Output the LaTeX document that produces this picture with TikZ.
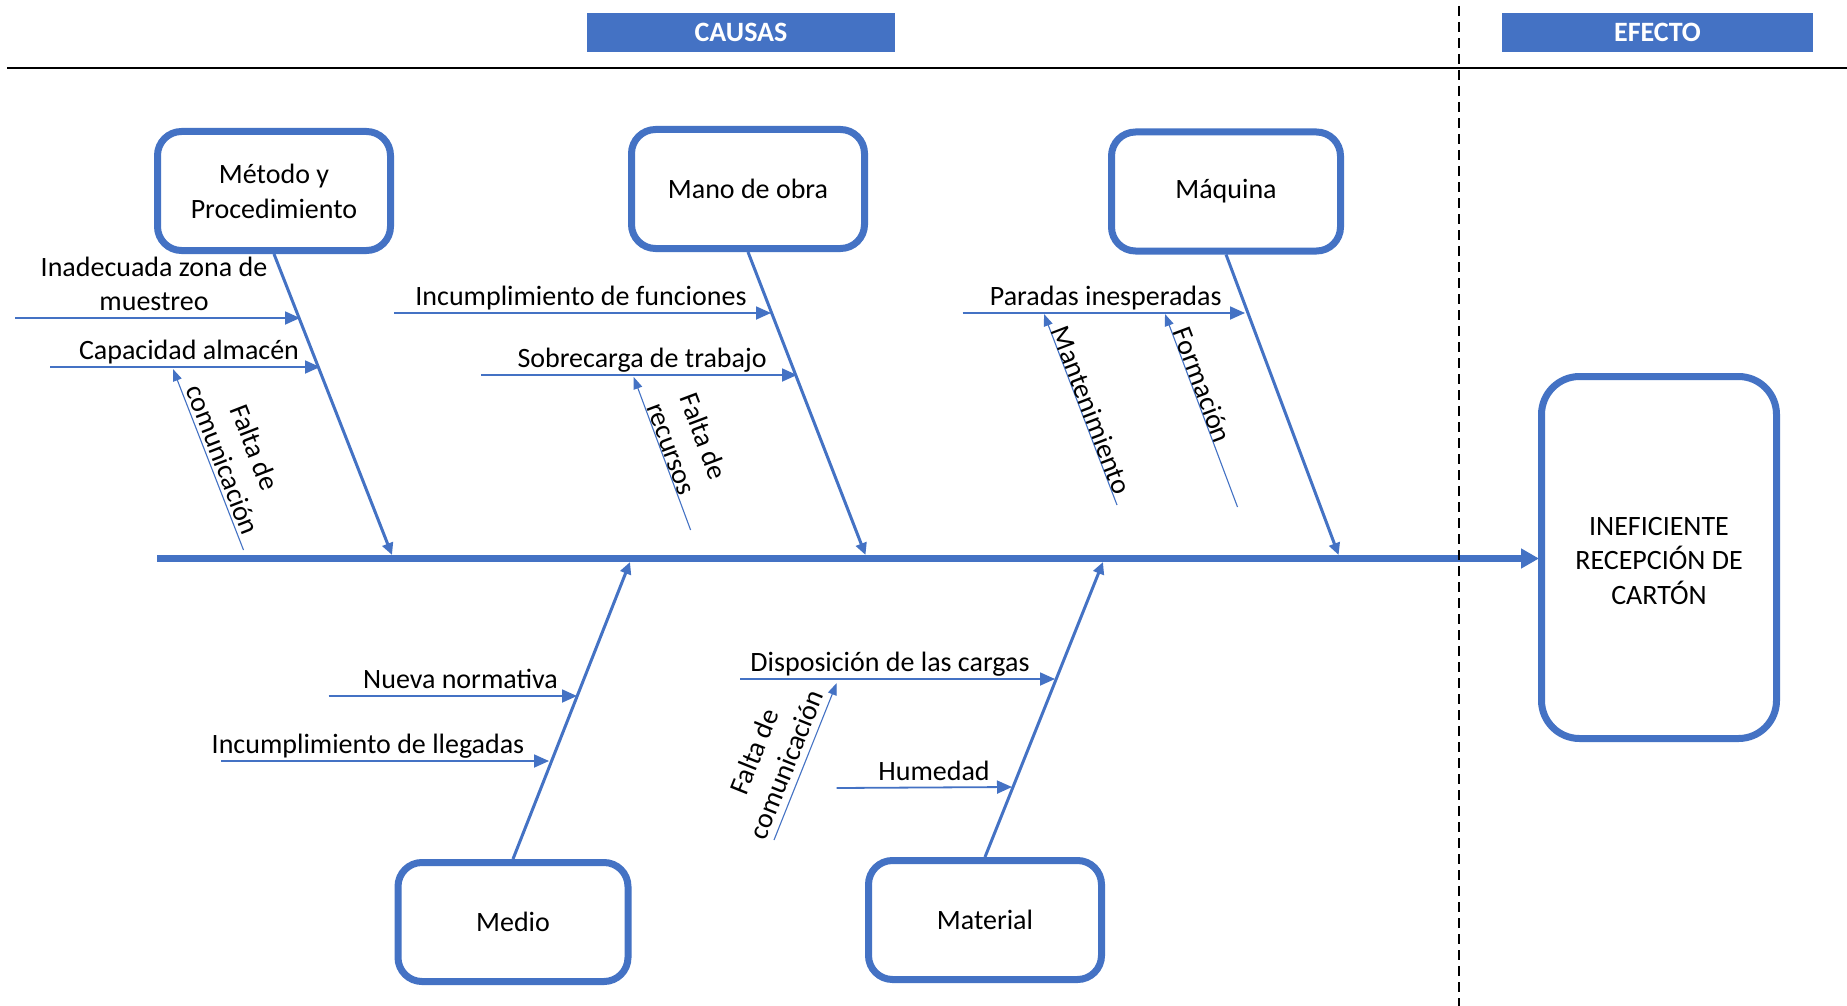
\documentclass[tikz,border=0pt]{standalone}
\usepackage{fontspec}
\setmainfont{Carlito}
\usetikzlibrary{arrows.meta}
\definecolor{obl}{HTML}{4472C4}
\begin{document}
\begin{tikzpicture}[x=1pt,y=-1pt,
  catbox/.style={draw=obl, line width=7pt, rounded corners=24pt, fill=white,
    minimum width=233pt, minimum height=119pt, align=center, inner sep=0pt,
    font=\fontsize{28}{35}\selectfont},
  lbl/.style={font=\fontsize{28}{34.5}\selectfont, align=center, inner sep=0pt, anchor=base},
  rlbl/.style={font=\fontsize{28}{34.5}\selectfont, align=center, inner sep=0pt},
  hdr/.style={fill=obl, text=white, font=\fontsize{28}{30}\selectfont\bfseries,
    minimum height=39pt, inner sep=0pt},
  bone/.style={draw=obl, line width=3pt, -{Triangle[length=12pt,width=11pt]}},
  subarr/.style={draw=obl, line width=1.8pt, -{Triangle[length=15pt,width=13pt]}},
  thinarr/.style={draw=obl, line width=1.1pt, -{Triangle[length=12pt,width=9pt]}},
]
\useasboundingbox (0,0) rectangle (1847,1006);
\fill[white] (0,0) rectangle (1847,1006);

% headers
\node[hdr, minimum width=308pt] (causas) at (741,32.5) {CAUSAS};
\node[hdr, minimum width=311pt] (efecto) at (1657.5,32.5) {EFECTO};
\coordinate (hl1) at (7,68);
\coordinate (hl2) at (1847,68);
\draw[line width=1.6pt, black] (hl1) -- (hl2);

% spine
\coordinate (sp0) at (157,558.5);
\coordinate (sp1) at (1539,558.5);
\draw[obl, line width=6.5pt, -{Triangle[length=18pt,width=19pt]}] (sp0) -- (sp1);

% effect box
\node[draw=obl, line width=7pt, rounded corners=38pt, fill=white,
  minimum width=235pt, minimum height=362pt, inner sep=0pt] (eff) at (1659,557.5) {};
\node[align=center, inner sep=0pt, font=\fontsize{28}{34.5}\selectfont,
  yshift=-3.5pt] (effT) at (eff.center) {INEFICIENTE\\RECEPCIÓN DE\\CARTÓN};

% dashed separator
\coordinate (dv1) at (1459,6);
\coordinate (dv2) at (1459,1006);
\draw[black, line width=1.8pt, dash pattern=on 10pt off 6pt] (dv1) -- (dv2);

% category boxes
\node[catbox] (met) at (274,191) {Método y\\Procedimiento};
\node[catbox] (mano) at (748,189) {Mano de obra};
\node[catbox, minimum width=229pt] (maq) at (1226,191.5) {Máquina};
\node[catbox, minimum width=230pt] (medio) at (513,922) {Medio};
\node[catbox] (mat) at (985,920) {Material};

% branch endpoints on the spine
\coordinate (metE) at (392,555);
\coordinate (manoE) at (865.5,555);
\coordinate (maqE) at (1338.6,555);
\coordinate (medioE) at (630,562);
\coordinate (matE) at (1103,562);

\draw[bone] (met.south) -- (metE);
\draw[bone] (mano.south) -- (manoE);
\draw[bone] (maq.south) -- (maqE);
\draw[bone] (medio.north) -- (medioE);
\draw[bone] (mat.north) -- (matE);

% ---- Método sub causes
\coordinate (a1s) at (15,318);  \coordinate (a1e) at (300,318);
\draw[subarr] (a1s) -- (a1e);
\node[lbl] (t1) at (154,310.5) {Inadecuada zona de\\muestreo};
\coordinate (a2s) at (50,367);  \coordinate (a2e) at (320,367);
\draw[subarr] (a2s) -- (a2e);
\node[lbl] (t2) at (189,359) {Capacidad almacén};
\coordinate (a3s) at (243.5,550); \coordinate (a3e) at (173,369);
\draw[thinarr] (a3s) -- (a3e);
\node[rlbl, rotate=-68.8] (t3) at (239,453.5) {Falta de\\comunicación};

% ---- Mano de obra sub causes
\coordinate (b1s) at (394,313);  \coordinate (b1e) at (771,313);
\draw[subarr] (b1s) -- (b1e);
\node[lbl] (u1) at (581,305) {Incumplimiento de funciones};
\coordinate (b2s) at (481,375);  \coordinate (b2e) at (797,375);
\draw[subarr] (b2s) -- (b2e);
\node[lbl] (u2) at (642,367) {Sobrecarga de trabajo};
\coordinate (b3s) at (690.6,530); \coordinate (b3e) at (633.7,377);
\draw[thinarr] (b3s) -- (b3e);
\node[rlbl, rotate=-69.4] (u3) at (688,442.5) {Falta de\\recursos};

% ---- Máquina sub causes
\coordinate (c1s) at (962.6,313);  \coordinate (c1e) at (1245,313);
\draw[subarr] (c1s) -- (c1e);
\node[lbl] (v1) at (1105.7,305) {Paradas inesperadas};
\coordinate (c2s) at (1117,505); \coordinate (c2e) at (1044,314);
\draw[thinarr] (c2s) -- (c2e);
\node[rlbl, rotate=-69] (v2) at (1091.5,410) {Mantenimiento};
\coordinate (c3s) at (1237.5,507); \coordinate (c3e) at (1165,314);
\draw[thinarr] (c3s) -- (c3e);
\node[rlbl, rotate=-69.3] (v3) at (1202.6,385) {Formación};

% ---- Medio sub causes
\coordinate (d1s) at (328.6,696);  \coordinate (d1e) at (577,696);
\draw[subarr] (d1s) -- (d1e);
\node[lbl] (w1) at (460.5,688) {Nueva normativa};
\coordinate (d2s) at (221,761);  \coordinate (d2e) at (549,761);
\draw[subarr] (d2s) -- (d2e);
\node[lbl] (w2) at (368,753) {Incumplimiento de llegadas};

% ---- Material sub causes
\coordinate (e1s) at (740,679);  \coordinate (e1e) at (1055,679);
\draw[subarr] (e1s) -- (e1e);
\node[lbl] (x1) at (890,671) {Disposición de las cargas};
\coordinate (e2s) at (836.7,788);  \coordinate (e2e) at (1012,787);
\draw[subarr] (e2s) -- (e2e);
\node[lbl] (x2) at (934,780.5) {Humedad};
\coordinate (e3s) at (774,840); \coordinate (e3e) at (836.7,683);
\draw[thinarr] (e3s) -- (e3e);
\node[rlbl, rotate=68.1] (x3) at (770,758) {Falta de\\comunicación};

\end{tikzpicture}
\end{document}
